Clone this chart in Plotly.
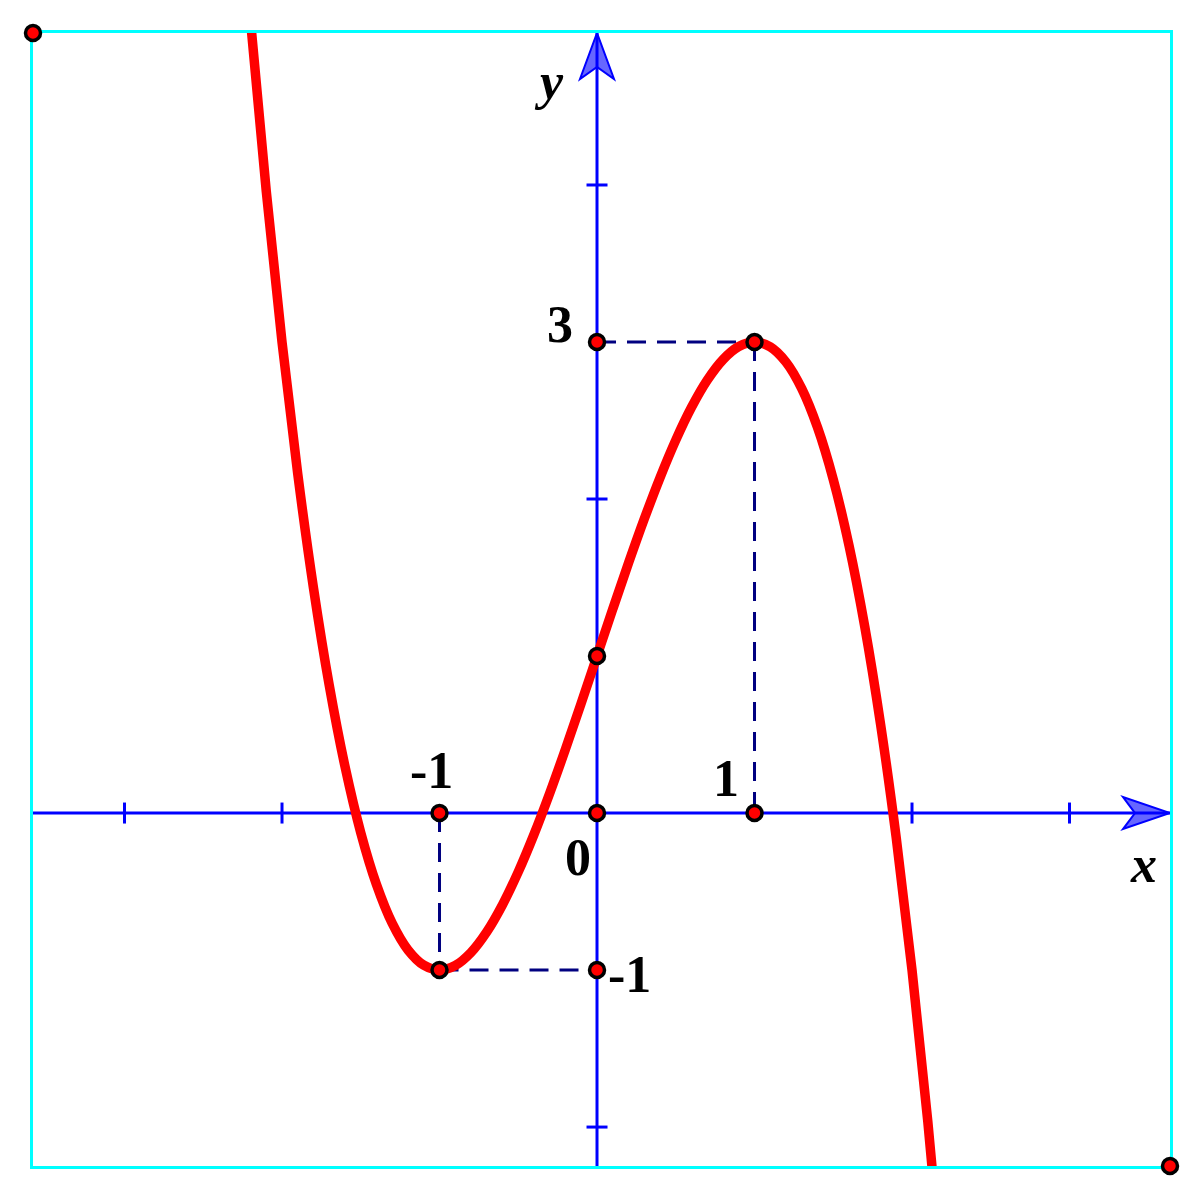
import plotly.graph_objects as go

# ---- data ----
curve_x = [-2.2, -2.1, -2.0, -1.9, -1.8, -1.7, -1.6, -1.5, -1.4, -1.3, -1.2, -1.1, -1.0,
           -0.9, -0.8, -0.7, -0.6, -0.5, -0.4, -0.3, -0.2, -0.1, 0.0, 0.1, 0.2, 0.3, 0.4,
           0.5, 0.6, 0.7, 0.8, 0.9, 1.0, 1.1, 1.2, 1.3, 1.4, 1.5, 1.6, 1.7, 1.8, 1.9, 2.0,
           2.1, 2.2]
curve_y = [5.048, 3.961, 3.0, 2.159, 1.432, 0.813, 0.296, -0.125, -0.456, -0.703, -0.872,
           -0.969, -1.0, -0.971, -0.888, -0.757, -0.584, -0.375, -0.136, 0.127, 0.408,
           0.701, 1.0, 1.299, 1.592, 1.873, 2.136, 2.375, 2.584, 2.757, 2.888, 2.971, 3.0,
           2.969, 2.872, 2.703, 2.456, 2.125, 1.704, 1.187, 0.568, -0.159, -1.0, -1.961,
           -3.048]

x_range = [-3.581, 3.638]
y_range = [-2.248, 4.968]

x_ticks = [-3, -2, 2, 3]
y_ticks = [-2, 2, 4]

point_x = [-1, 0, 1, 0, 1, 0, -1, 0]
point_y = [0, 0, 0, 3, 3, 1, -1, -1]

# dashed guide segments: (x0, y0, x1, y1)
guides = [(0, 3, 1, 3), (1, 3, 1, 0), (-1, 0, -1, -1), (-1, -1, 0, -1)]

label_text = ["3", "-1", "1", "0", "-1"]
label_x = [-0.235, -1.05, 0.82, -0.121, 0.205]
label_y = [3.11, 0.27, 0.22, -0.28, -1.03]

axis_names = ["y", "x"]
axis_name_x = [-0.305, 3.47]
axis_name_y = [4.66, -0.33]

BLUE = "#0000ff"
NAVY = "#000080"
CYAN = "#00ffff"

fig = go.Figure()

# axes lines
fig.add_shape(type="line", x0=x_range[0], x1=x_range[1], y0=0, y1=0,
              line=dict(color=BLUE, width=3), layer="below")
fig.add_shape(type="line", x0=0, x1=0, y0=y_range[0], y1=y_range[1],
              line=dict(color=BLUE, width=3), layer="below")

# arrowheads (pixel-sized, anchored at axis ends)
fig.add_shape(type="path", xsizemode="pixel", ysizemode="pixel",
              xanchor=x_range[1], yanchor=0,
              path="M 0 0 L -47 16 L -35 0 L -47 -16 Z",
              fillcolor="rgba(0,0,255,0.6)", line=dict(color=BLUE, width=2))
fig.add_shape(type="path", xsizemode="pixel", ysizemode="pixel",
              xanchor=0, yanchor=y_range[1],
              path="M 0 0 L -17 -46 L 0 -34 L 17 -46 Z",
              fillcolor="rgba(0,0,255,0.6)", line=dict(color=BLUE, width=2))

# tick marks
fig.add_trace(go.Scatter(x=x_ticks, y=[0] * len(x_ticks), mode="markers",
                         marker=dict(symbol="line-ns", size=15,
                                     line=dict(color=BLUE, width=3)),
                         hoverinfo="skip"))
fig.add_trace(go.Scatter(x=[0] * len(y_ticks), y=y_ticks, mode="markers",
                         marker=dict(symbol="line-ew", size=15,
                                     line=dict(color=BLUE, width=3)),
                         hoverinfo="skip"))

# dashed guides
for gx0, gy0, gx1, gy1 in guides:
    fig.add_trace(go.Scatter(x=[gx0, gx1], y=[gy0, gy1], mode="lines",
                             line=dict(color=NAVY, width=3, dash="19px,11px"),
                             hoverinfo="skip"))

# curve
fig.add_trace(go.Scatter(x=curve_x, y=curve_y, mode="lines",
                         line=dict(color="#ff0000", width=9.5, shape="spline", smoothing=1.0),
                         hoverinfo="skip"))

# points
marker_style = dict(size=15, color="#ff0000", line=dict(color="black", width=3.5))
fig.add_trace(go.Scatter(x=point_x, y=point_y, mode="markers",
                         marker=marker_style, hoverinfo="skip"))
fig.add_trace(go.Scatter(x=[x_range[0], x_range[1]], y=[y_range[1], y_range[0]],
                         mode="markers", cliponaxis=False,
                         marker=marker_style, hoverinfo="skip"))

font = dict(family="Liberation Serif", size=52, color="black")
for t, lx, ly in zip(label_text, label_x, label_y):
    fig.add_annotation(x=lx, y=ly, text="<b>" + t + "</b>", showarrow=False, font=font)
for t, lx, ly in zip(axis_names, axis_name_x, axis_name_y):
    fig.add_annotation(x=lx, y=ly, text="<b><i>" + t + "</i></b>", showarrow=False, font=font)

axis_common = dict(showgrid=False, zeroline=False, showticklabels=False, ticks="",
                   showline=True, mirror=True, linecolor=CYAN, linewidth=3,
                   layer="below traces")
fig.update_xaxes(range=x_range, **axis_common)
fig.update_yaxes(range=y_range, **axis_common)

fig.update_layout(width=1180, height=1180, showlegend=False,
                  margin=dict(l=25, r=18, t=25, b=22),
                  plot_bgcolor="white", paper_bgcolor="white")

fig.write_html("out.html")
